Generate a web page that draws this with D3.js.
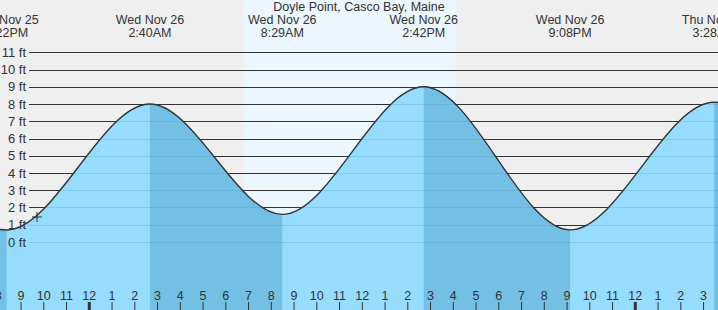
<!DOCTYPE html>
<html>
<head>
<meta charset="utf-8">
<script src="https://cdn.jsdelivr.net/npm/d3@7"></script>
<style>
  html, body { margin: 0; padding: 0; background: #efefef; }
  svg { display: block; font-family: "Liberation Sans", Arial, sans-serif; }
</style>
</head>
<body>
<svg id="chart" width="718" height="310"></svg>
<script>
// tide extremes (first and last are just off the visible window)
const tideTimes = ["2025-11-25 14:05", "2025-11-25 20:22", "2025-11-26 02:40", "2025-11-26 08:29",
                   "2025-11-26 14:42", "2025-11-26 21:08", "2025-11-27 03:28", "2025-11-27 09:45"];
const tideHeights = [8.4, 0.7, 8.0, 1.6, 9.0, 0.7, 8.1, 1.2];
const tideDays = ["", "Tue Nov 25", "Wed Nov 26", "Wed Nov 26", "Wed Nov 26", "Wed Nov 26", "Thu Nov 27", ""];
const tideClock = ["", "8:22PM", "2:40AM", "8:29AM", "2:42PM", "9:08PM", "3:28AM", ""];

const sunTimes = ["2025-11-26 06:46", "2025-11-26 16:06"];
const nowTime = "2025-11-25 21:42";
const nowHeight = 1.45;
const feetTicks = [0, 1, 2, 3, 4, 5, 6, 7, 8, 9, 10, 11];
const viewStart = "2025-11-25 20:04:30";
const viewEnd = "2025-11-27 03:38:06";
const title = "Doyle Point, Casco Bay, Maine";

const W = 718, H = 310;
const parse = d3.timeParse("%Y-%m-%d %H:%M");
const parseS = d3.timeParse("%Y-%m-%d %H:%M:%S");

const tides = tideTimes.map((t, i) => ({ t: parse(t), h: tideHeights[i], day: tideDays[i], clock: tideClock[i] }));

const x = d3.scaleTime().domain([parseS(viewStart), parseS(viewEnd)]).range([0, W]);
const y = d3.scaleLinear().domain([0, 11]).range([242, 52.25]);

const svg = d3.select("#chart");

// background + daylight
svg.append("rect").attr("width", W).attr("height", H).attr("fill", "#efefef");
svg.append("rect")
  .attr("x", x(parse(sunTimes[0]))).attr("y", 0)
  .attr("width", x(parse(sunTimes[1])) - x(parse(sunTimes[0]))).attr("height", H)
  .attr("fill", "#ebf6ff");

// grid lines
const grid = svg.append("g");
grid.selectAll("line").data(feetTicks).join("line")
  .attr("x1", 29).attr("x2", W)
  .attr("y1", d => Math.round(y(d)) + 0.5).attr("y2", d => Math.round(y(d)) + 0.5)
  .attr("stroke", "#333").attr("stroke-width", 1);

// water
const area = d3.area()
  .x(d => x(d.t)).y0(H).y1(d => y(d.h))
  .curve(d3.curveMonotoneX);
const line = d3.line()
  .x(d => x(d.t)).y(d => y(d.h))
  .curve(d3.curveMonotoneX);

const defs = svg.append("defs");
const fallClip = defs.append("clipPath").attr("id", "falling");
for (let i = 0; i < tides.length - 1; i++) {
  if (tides[i].h > tides[i + 1].h) {
    fallClip.append("rect")
      .attr("x", x(tides[i].t)).attr("y", 0)
      .attr("width", x(tides[i + 1].t) - x(tides[i].t)).attr("height", H);
  }
}
defs.append("clipPath").attr("id", "water").append("path").attr("d", area(tides));

svg.append("path").attr("d", area(tides)).attr("fill", "#96dcfd");
svg.append("path").attr("d", area(tides)).attr("fill", "#74c0e4").attr("clip-path", "url(#falling)");

// grid lines seen through the water
svg.append("g").attr("clip-path", "url(#water)")
  .selectAll("line").data(feetTicks).join("line")
  .attr("x1", 29).attr("x2", W)
  .attr("y1", d => Math.round(y(d)) + 0.5).attr("y2", d => Math.round(y(d)) + 0.5)
  .attr("stroke", "#2a7fa8").attr("stroke-opacity", 0.18).attr("stroke-width", 1);

svg.append("path").attr("d", line(tides))
  .attr("fill", "none").attr("stroke", "#333").attr("stroke-width", 1.4);

// current time marker
const nx = x(parse(nowTime)), ny = y(nowHeight);
svg.append("path")
  .attr("d", `M${nx - 5},${ny}H${nx + 5}M${nx},${ny - 5}V${ny + 5}`)
  .attr("stroke", "#333").attr("stroke-width", 1).attr("fill", "none");

// y labels
svg.append("g").selectAll("text").data(feetTicks).join("text")
  .attr("x", 26).attr("y", d => y(d) + 4.5)
  .attr("text-anchor", "end").attr("font-size", 13).attr("fill", "#333")
  .text(d => d + " ft");

// hour axis
const hours = d3.timeHour.range(d3.timeHour.offset(x.domain()[0], -1), x.domain()[1]);
const hg = svg.append("g");
hg.selectAll("text").data(hours).join("text")
  .attr("x", d => x(d)).attr("y", 300)
  .attr("text-anchor", "middle").attr("font-size", 12.5).attr("fill", "#333")
  .text(d => d3.timeFormat("%-I")(d));
hg.selectAll("rect").data(hours).join("rect")
  .attr("x", d => x(d) - (d.getHours() === 0 ? 1.5 : 0.5)).attr("y", 302)
  .attr("width", d => d.getHours() === 0 ? 3 : 1).attr("height", 8)
  .attr("fill", "#333");

// tide event labels
const ev = svg.append("g").selectAll("g").data(tides.filter(d => d.clock)).join("g")
  .attr("transform", d => `translate(${x(d.t)},0)`);
ev.append("text").attr("y", 24).attr("text-anchor", "middle")
  .attr("font-size", 12.5).attr("fill", "#333").text(d => d.day);
ev.append("text").attr("y", 36.5).attr("text-anchor", "middle")
  .attr("font-size", 12.5).attr("fill", "#333").text(d => d.clock);

// title
svg.append("text").attr("x", W / 2).attr("y", 11).attr("text-anchor", "middle")
  .attr("font-size", 12.5).attr("fill", "#333").text(title);
</script>
</body>
</html>
